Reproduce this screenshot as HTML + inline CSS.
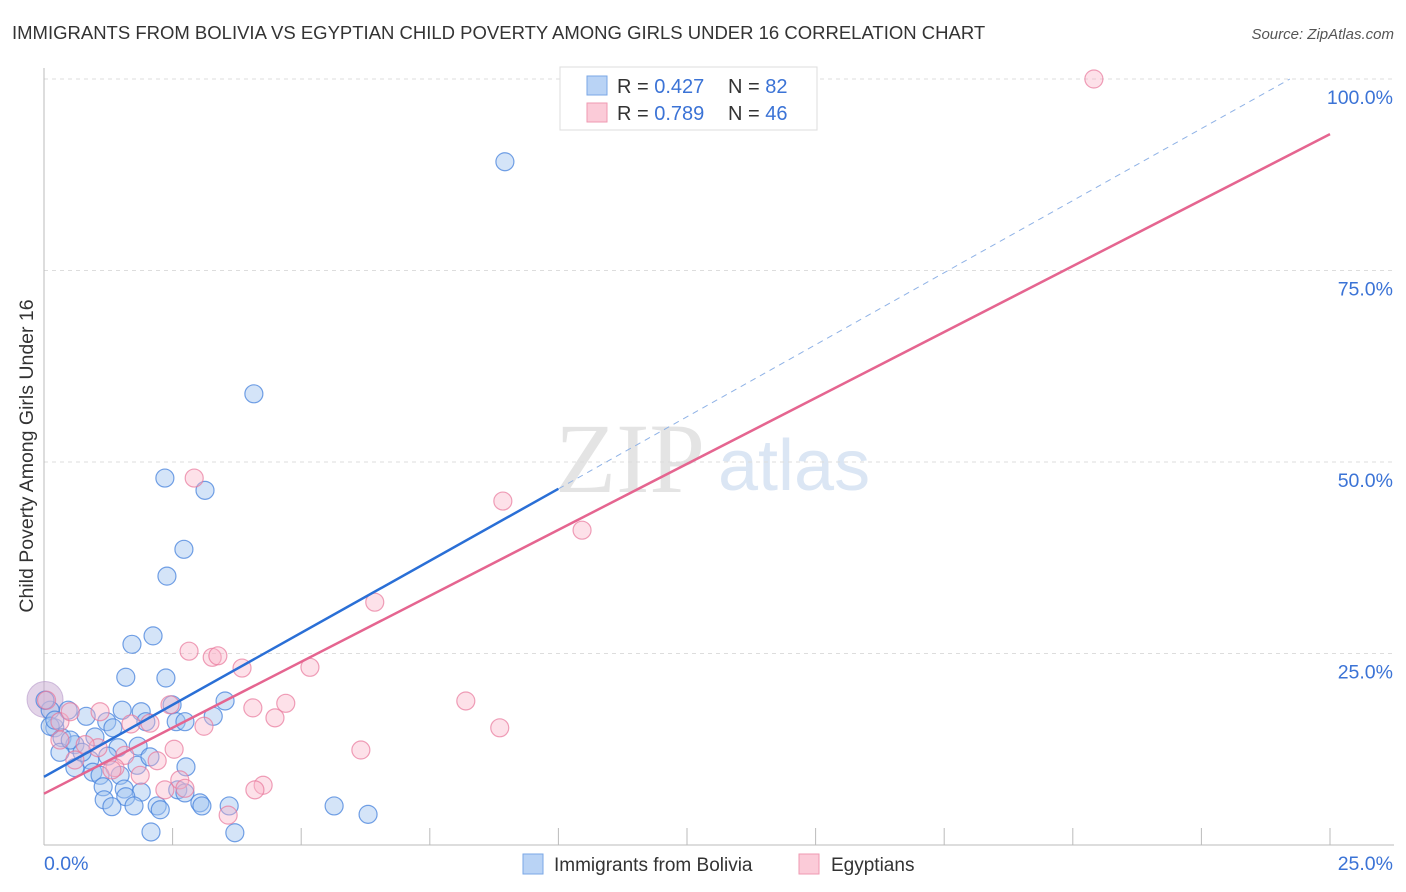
<!DOCTYPE html>
<html><head><meta charset="utf-8"><style>
body{margin:0;background:#fff;font-family:"Liberation Sans",sans-serif}
</style></head><body>
<svg id="chart" width="1406" height="892" style="display:block">
<text x="12" y="39" font-size="18.5" fill="#333">IMMIGRANTS FROM BOLIVIA VS EGYPTIAN CHILD POVERTY AMONG GIRLS UNDER 16 CORRELATION CHART</text>
<text x="1394" y="39" font-size="15" fill="#555" font-style="italic" text-anchor="end">Source: ZipAtlas.com</text>
<text x="555" y="492" font-size="100" fill="#e4e4e4" font-family="Liberation Serif">ZIP</text>
<text x="718" y="490" font-size="72" fill="#dbe6f4">atlas</text>
<g id="grid"></g>
<g id="pts"></g>
<g id="lines"></g>
<text transform="translate(33,456) rotate(-90)" font-size="19.5" fill="#333" text-anchor="middle">Child Poverty Among Girls Under 16</text>
<g>
<rect x="560" y="67" width="257" height="63" fill="#fff" stroke="#ddd"/>
<rect x="587" y="76" width="20" height="19" fill="#b9d3f5" stroke="#7aa7e6"/>
<text x="617" y="93" font-size="20" fill="#333">R = <tspan fill="#3b73d6">0.427</tspan><tspan x="728">N = </tspan><tspan fill="#3b73d6">82</tspan></text>
<rect x="587" y="103" width="20" height="19" fill="#fbcbd8" stroke="#ef9ab2"/>
<text x="617" y="120" font-size="20" fill="#333">R = <tspan fill="#3b73d6">0.789</tspan><tspan x="728">N = </tspan><tspan fill="#3b73d6">46</tspan></text>
</g>
<g>
<rect x="523" y="854" width="20" height="20" fill="#b9d3f5" stroke="#7aa7e6"/>
<text x="554" y="871" font-size="19" fill="#333">Immigrants from Bolivia</text>
<rect x="799" y="854" width="20" height="20" fill="#fbcbd8" stroke="#ef9ab2"/>
<text x="831" y="871" font-size="19" fill="#333">Egyptians</text>
</g>
</svg>
<script>
const yTicks=[25,50,75,100];
const yTickLabels=["25.0%","50.0%","75.0%","100.0%"];
const xTickLabels=["0.0%","25.0%"];
const blueX=[8.96,4.08,2.35,3.13,2.72,2.39,2.12,1.71,1.59,2.37,3.52,2.49,1.89,3.29,2.57,1.98,1.22,0.82,0.47,0.12,0.21,0.35,0.60,0.99,1.34,1.44,1.83,1.24,0.89,0.60,0.31,0.95,1.09,1.48,1.81,2.76,1.15,1.56,1.89,2.60,2.74,1.17,1.59,1.75,1.32,2.20,2.26,3.03,3.07,3.60,2.08,3.71,5.64,6.30,0.02,0.12,0.51,0.74,0.21,2.06,2.74,1.52];
const blueY=[89.2,58.9,47.9,46.3,38.6,35.1,27.3,26.2,21.9,21.8,18.8,18.3,17.4,16.8,16.1,16.1,16.1,16.8,17.6,17.6,15.3,14.0,13.1,14.1,15.3,12.7,12.9,11.6,11.1,10.1,12.1,9.5,9.1,9.1,10.4,10.2,7.6,7.3,6.9,7.2,6.8,5.9,6.3,5.1,5.0,5.1,4.6,5.5,5.1,5.1,1.7,1.6,5.1,4.0,18.9,15.5,13.7,12.1,16.3,11.5,16.1,17.6];
const pinkX=[20.41,2.92,8.92,10.46,6.43,2.82,3.27,3.38,3.85,5.17,8.20,4.70,4.06,2.45,4.49,3.11,2.06,1.69,8.86,6.16,2.53,2.20,1.57,1.05,0.31,0.05,0.31,0.51,1.09,1.38,1.87,2.64,2.74,2.35,4.26,4.10,3.58,1.32,0.80,0.60];
const pinkY=[100,47.9,44.9,41.1,31.7,25.3,24.5,24.7,23.1,23.2,18.8,18.5,17.9,18.3,16.6,15.5,15.9,15.8,15.3,12.4,12.5,11.0,11.7,12.7,16.1,18.9,13.7,17.4,17.4,10.1,9.1,8.5,7.4,7.2,7.8,7.2,3.9,9.8,13.1,11.1];
const blueLine=[0,8.9,10,46.5,24.22,100];
const pinkLine=[0,6.7,25,92.8];
const sx=v=>44+v*51.44, sy=v=>845-v*7.66;
const NS="http://www.w3.org/2000/svg";
function mk(p,t,a){const e=document.createElementNS(NS,t);for(const k in a)e.setAttribute(k,a[k]);p.appendChild(e);return e;}
const g=document.getElementById('grid');
yTicks.forEach((t,i)=>{
 const l=mk(g,'line',{x1:44,x2:1394,y1:sy(t),y2:sy(t),stroke:'#ddd','stroke-dasharray':'4,4'});
 
 
 const tx=mk(g,'text',{x:1393,y:sy(t)+25,'font-size':19.5,fill:'#3b73d6','text-anchor':'end'});
 tx.textContent=yTickLabels[i];
 
 
});
mk(g,'line',{x1:44,x2:44,y1:68,y2:845,stroke:'#bbb'});
mk(g,'line',{x1:44,x2:1394,y1:845,y2:845,stroke:'#bbb'});
for(let i=1;i<=10;i++){const x=sx(i*2.5);mk(g,'line',{x1:x,x2:x,y1:828,y2:845,stroke:'#bbb'});}
[0,25].forEach((v,i)=>{
 const tx=mk(g,'text',{x:i?1393:44,y:870,'font-size':19.5,fill:'#3b73d6','text-anchor':i?'end':'start'});
 tx.textContent=xTickLabels[i];
 
 
});
const pg=document.getElementById('pts');
mk(pg,'circle',{cx:sx(0.02),cy:sy(19),r:18,fill:'rgba(200,170,210,0.5)',stroke:'rgba(180,150,200,0.6)'});
blueX.forEach((x,i)=>{
 const c=mk(pg,'circle',{cx:sx(x),cy:sy(blueY[i]),r:9,fill:'rgba(160,196,240,0.45)',stroke:'rgba(70,130,220,0.75)','stroke-width':1.2});
 
 
});
pinkX.forEach((x,i)=>{
 const c=mk(pg,'circle',{cx:sx(x),cy:sy(pinkY[i]),r:9,fill:'rgba(250,180,200,0.4)',stroke:'rgba(232,120,155,0.7)','stroke-width':1.2});
 
 
});
const lg=document.getElementById('lines');
let l=mk(lg,'line',{x1:sx(blueLine[0]),y1:sy(blueLine[1]),x2:sx(blueLine[2]),y2:sy(blueLine[3]),stroke:'#2a6fd6','stroke-width':2.5});


l=mk(lg,'line',{x1:sx(blueLine[2]),y1:sy(blueLine[3]),x2:sx(blueLine[4]),y2:sy(blueLine[5]),stroke:'#8fb2e6','stroke-width':1,'stroke-dasharray':'6,5'});


l=mk(lg,'line',{x1:sx(pinkLine[0]),y1:sy(pinkLine[1]),x2:sx(pinkLine[2]),y2:sy(pinkLine[3]),stroke:'#e56590','stroke-width':2.5});


</script>
</body></html>
